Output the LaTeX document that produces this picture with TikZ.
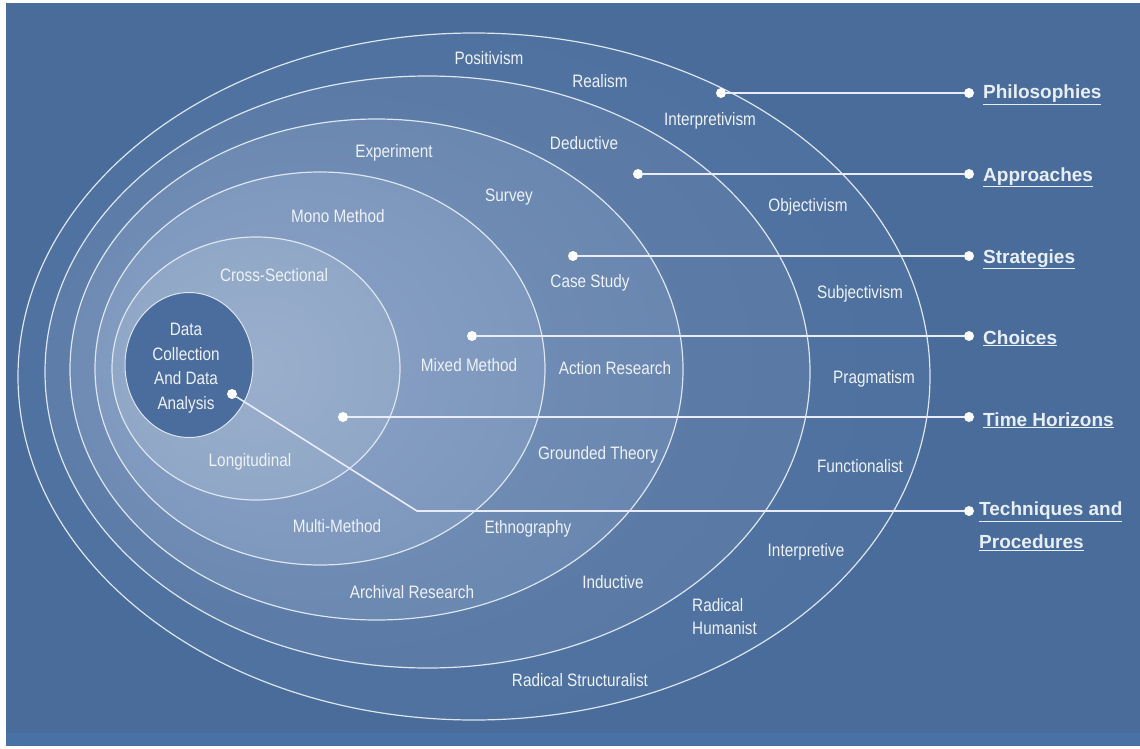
\documentclass[tikz,border=0pt]{standalone}
\usepackage{fontspec}
\setmainfont{Liberation Sans}
\newfontfamily\narrowfont[FakeStretch=0.85]{Liberation Sans}
\usetikzlibrary{shapes.geometric}
\definecolor{bgblue}{HTML}{496C9A}
\definecolor{bandblue}{HTML}{4872A6}
\definecolor{ringline}{HTML}{DCE5F0}
\definecolor{labeltext}{HTML}{EEF2F7}
\definecolor{headtext}{HTML}{E8EEF5}
\definecolor{corefill}{HTML}{4A6D9D}
\definecolor{cAin}{HTML}{5275A3}\definecolor{cAout}{HTML}{4B6E9C}
\definecolor{cBin}{HTML}{6382AD}\definecolor{cBout}{HTML}{53749F}
\definecolor{cCin}{HTML}{7A94BB}\definecolor{cCout}{HTML}{5D7DA8}
\definecolor{cDin}{HTML}{8CA3C6}\definecolor{cDout}{HTML}{718CB5}
\definecolor{cEin}{HTML}{9AAFCC}\definecolor{cEout}{HTML}{869FC1}
\pgfdeclareradialshading{gA}{\pgfpoint{-8bp}{0bp}}{color(0bp)=(cAin); color(50bp)=(cAout)}
\pgfdeclareradialshading{gB}{\pgfpoint{-12bp}{0bp}}{color(0bp)=(cBin); color(50bp)=(cBout)}
\pgfdeclareradialshading{gC}{\pgfpoint{-10bp}{0bp}}{color(0bp)=(cCin); color(50bp)=(cCout)}
\pgfdeclareradialshading{gD}{\pgfpoint{-6bp}{0bp}}{color(0bp)=(cDin); color(50bp)=(cDout)}
\pgfdeclareradialshading{gE}{\pgfpoint{0bp}{0bp}}{color(0bp)=(cEin); color(50bp)=(cEout)}
\begin{document}
\begin{tikzpicture}[x=1pt,y=-1pt,
  ring/.style={ellipse, draw=ringline, line width=1.2pt, inner sep=0pt, outer sep=0pt, shade},
  lbl/.style={text=labeltext, font=\narrowfont\fontsize{18}{20}\selectfont, inner sep=0pt},
  dot/.style={circle, fill=white, inner sep=0pt, minimum size=10pt},
  conn/.style={draw=white!92!blue, line width=1.6pt},
  head/.style={text=headtext, font=\bfseries\fontsize{19}{33}\selectfont, anchor=base west, inner sep=0pt, align=left}]
\useasboundingbox (0,0) rectangle (1140,749);
\fill[white] (0,0) rectangle (1140,749);
\fill[bgblue] (6,3) rectangle (1140,746);
\fill[bandblue] (6,733) rectangle (1140,746);
% rings
\node[ring, shading=gA, minimum width=912pt, minimum height=687pt] (e1) at (474,376.5) {};
\node[ring, shading=gB, minimum width=765pt, minimum height=592pt] (e2) at (427.5,372) {};
\node[ring, shading=gC, minimum width=613pt, minimum height=501pt] (e3) at (376.5,369.5) {};
\node[ring, shading=gD, minimum width=450pt, minimum height=393pt] (e4) at (320,368.5) {};
\node[ring, shading=gE, minimum width=288pt, minimum height=263pt] (e5) at (256,368.5) {};
\node[ellipse, fill=corefill, draw=ringline, line width=1pt, inner sep=0pt, minimum width=128pt, minimum height=145pt] (core) at (189,365) {};
% labels
\node[lbl] (positivism) at (489,58) {Positivism};
\node[lbl] (realism) at (600,81) {Realism};
\node[lbl] (interpretivism) at (710,121) {Interpretivism};
\node[lbl] (deductive) at (584,143) {Deductive};
\node[lbl] (experiment) at (394,153) {Experiment};
\node[lbl] (survey) at (509,197) {Survey};
\node[lbl] (objectivism) at (808,207) {Objectivism};
\node[lbl] (mono) at (338,216) {Mono Method};
\node[lbl] (cross) at (274,275) {Cross-Sectional};
\node[lbl] (casestudy) at (590,283) {Case Study};
\node[lbl] (subjectivism) at (860,294) {Subjectivism};
\node[lbl, align=center, font=\narrowfont\fontsize{18}{24.5}\selectfont] (data) at (186,368) {Data\\Collection\\And Data\\Analysis};
\node[lbl] (mixed) at (469,365) {Mixed Method};
\node[lbl] (action) at (615,368) {Action Research};
\node[lbl] (pragmatism) at (874,379) {Pragmatism};
\node[lbl] (longitudinal) at (250,462) {Longitudinal};
\node[lbl] (grounded) at (598,455) {Grounded Theory};
\node[lbl] (functionalist) at (860,466) {Functionalist};
\node[lbl] (multi) at (337,526) {Multi-Method};
\node[lbl] (ethnography) at (528,529) {Ethnography};
\node[lbl] (interpretive) at (806,552) {Interpretive};
\node[lbl] (inductive) at (613,582) {Inductive};
\node[lbl] (archival) at (412,592) {Archival Research};
\node[lbl, align=left, anchor=west, font=\narrowfont\fontsize{18}{23}\selectfont] (radhum) at (692,617) {Radical\\Humanist};
\node[lbl] (radstruct) at (580,680) {Radical Structuralist};
% connectors
\node[dot] (d1) at (721,93) {};   \node[dot] (h1) at (969,93) {};
\node[dot] (d2) at (638,174) {};  \node[dot] (h2) at (969,174) {};
\node[dot] (d3) at (573,256) {};  \node[dot] (h3) at (969,256) {};
\node[dot] (d4) at (472,336) {};  \node[dot] (h4) at (969,336) {};
\node[dot] (d5) at (343,417) {};  \node[dot] (h5) at (969,417) {};
\node[dot] (d6) at (232,394) {};  \node[dot] (h6) at (969,511) {};
\coordinate (bend6) at (417,511);
\draw[conn] (d1) -- (h1);
\draw[conn] (d2) -- (h2);
\draw[conn] (d3) -- (h3);
\draw[conn] (d4) -- (h4);
\draw[conn] (d5) -- (h5);
\draw[conn] (d6) -- (bend6) -- (h6);
% headings
\node[head] (philosophies) at (983,99) {\underline{Philosophies}};
\node[head] (approaches) at (983,181) {\underline{Approaches}};
\node[head] (strategies) at (983,263) {\underline{Strategies}};
\node[head] (choices) at (983,344) {\underline{Choices}};
\node[head] (timeh) at (983,426) {\underline{Time Horizons}};
\node[head, anchor=north west] (techniques) at (979,502) {\underline{Techniques and}\\\underline{Procedures}};
\end{tikzpicture}
\end{document}
